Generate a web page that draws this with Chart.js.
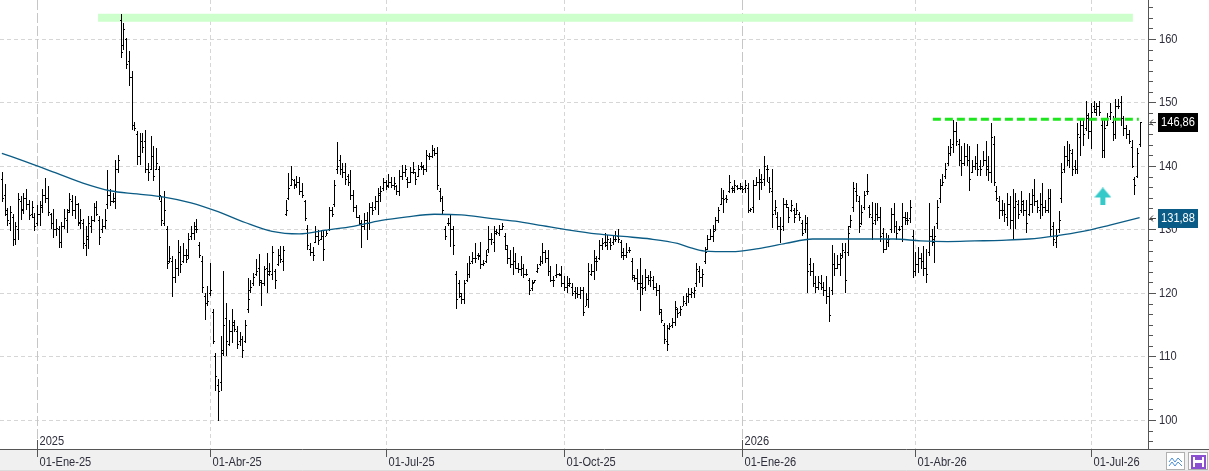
<!DOCTYPE html>
<html>
<head>
<meta charset="utf-8">
<script src="https://cdn.jsdelivr.net/npm/chart.js@4.4.1/dist/chart.umd.min.js"></script>
<style>
  html, body { margin: 0; padding: 0; background: #fff; }
  canvas { display: block; }
</style>
</head>
<body>
<canvas id="chart" width="1209" height="471"></canvas>
<script>
/* ----------------------------------
 * DATA (one bar per trading session, index 0 = 13-Dic-24)
 * ---------------------------------- */
const highs = [
  139.0,137.1,133.4,133.7,132.4,131.1,135.8,135.2,135.8,136.3, 134.7,134.5,132.6,133.9,134.5,136.3,138.1,136.8,132.6,133.2,
  131.6,130.5,131.1,133.2,133.2,135.8,135.5,135.2,134.2,133.2, 131.6,130.5,132.1,132.1,134.2,134.5,132.1,131.6,133.2,139.4,
  136.3,135.8,141.0,141.8,164.0,162.5,160.2,158.1,154.9,147.0, 145.5,145.2,145.2,145.7,140.5,144.7,143.1,142.9,140.0,135.2,
  136.0,130.5,127.4,125.8,125.3,128.4,127.4,127.9,126.9,129.5, 130.5,131.1,131.6,128.0,125.8,120.0,121.1,124.8,117.4,110.6,
  106.4,113.2,123.4,118.5,115.8,117.4,115.8,114.8,113.8,113.2, 115.8,122.4,122.1,123.2,125.3,126.1,122.1,124.2,126.3,124.8,
  127.4,123.7,126.9,127.4,127.4,134.7,138.9,140.0,137.9,138.4, 138.3,137.3,134.7,130.7,127.9,127.3,130.5,129.9,129.9,129.9,
  129.9,133.6,133.6,137.8,143.8,141.7,140.4,140.4,138.8,139.4, 136.2,133.9,132.3,131.5,132.6,132.8,134.1,134.4,135.2,136.5,
  136.8,138.1,137.8,138.8,138.3,138.3,137.0,139.4,140.2,140.2, 138.3,139.9,140.7,139.1,140.2,140.7,140.2,142.5,142.0,143.3,
  142.8,143.0,136.5,135.2,130.5,131.8,132.3,130.5,123.4,122.1, 120.0,122.1,124.7,125.8,126.5,127.9,126.3,128.1,125.2,126.8,
  130.5,129.4,130.5,130.0,130.7,131.0,129.4,127.6,126.8,127.3, 126.3,124.7,125.8,124.5,123.7,122.4,122.1,122.1,124.5,125.8,
  127.9,126.8,126.8,124.2,122.6,124.5,123.1,124.2,122.6,122.6, 122.4,121.6,121.0,121.0,121.0,121.0,120.0,124.7,124.5,126.8,
  125.8,128.4,128.6,129.4,129.2,128.6,129.2,129.7,130.0,128.4, 127.1,127.9,127.3,125.5,122.9,123.7,125.5,122.9,123.7,122.9,
  123.4,122.6,121.6,121.3,117.4,115.3,115.0,115.3,116.1,118.7, 117.6,117.9,119.5,120.0,120.8,120.8,121.0,124.7,124.2,123.7,
  127.3,129.2,130.0,130.7,132.0,133.6,136.5,136.2,135.4,138.6, 136.8,137.8,137.0,137.3,136.8,137.8,137.3,133.4,137.8,138.3,
  139.6,138.8,141.5,140.2,138.3,139.6,134.7,132.8,132.0,134.9, 134.7,133.6,134.7,133.4,134.1,132.8,131.5,132.3,132.0,125.5,
  124.7,122.6,122.6,122.9,121.8,122.6,121.0,127.6,126.3,126.0, 126.3,127.9,127.9,130.5,132.3,137.5,137.3,135.2,133.9,136.0,
  138.8,133.9,134.4,134.1,134.1,133.6,130.2,129.4,129.2,133.4, 134.1,131.3,130.5,134.1,132.8,132.8,134.7,129.9,126.5,127.3,
  126.3,127.4,127.0,134.2,130.0,130.5,134.7,137.9,138.7,140.5, 143.1,144.2,147.3,147.0,144.2,143.1,143.6,143.4,143.1,141.0,
  141.5,143.4,141.0,142.3,143.9,141.5,146.8,144.7,136.8,135.2, 134.7,134.2,135.8,135.2,136.3,135.8,134.7,136.0,134.7,134.7,
  135.8,136.3,137.9,134.7,135.8,137.3,134.7,136.3,136.3,131.1, 130.0,132.9,140.5,143.1,143.9,143.4,142.6,141.0,146.8,147.3,
  147.3,150.2,148.4,149.9,150.2,149.9,150.2,147.3,147.3,148.4, 149.9,147.8,150.5,150.5,151.0,147.8,146.5,145.7,144.1,138.3,
  142.8,147.0
];

const lows = [
  134.3,132.1,130.5,129.7,127.4,127.6,128.4,131.5,132.4,133.0, 131.5,131.8,129.8,130.5,130.5,132.6,134.2,132.1,130.0,128.7,
  129.0,127.1,127.1,130.0,129.5,132.6,132.1,131.6,130.5,130.0, 126.9,125.8,126.9,129.5,131.1,132.1,127.6,129.5,130.0,133.2,
  133.7,134.2,133.2,138.9,157.0,158.3,155.2,152.6,145.7,145.5, 140.2,140.2,142.1,138.9,137.6,139.4,137.6,139.4,134.7,130.5,
  130.5,123.7,124.8,119.3,121.6,122.7,123.2,124.8,124.8,125.3, 128.4,128.4,129.5,125.5,120.0,115.8,117.9,119.5,111.9,104.6,
  99.9,104.6,110.1,110.1,111.6,112.2,113.8,111.1,111.6,109.8, 112.2,116.9,120.0,121.1,122.7,121.1,117.9,121.1,120.0,122.7,
  122.1,120.6,124.2,124.8,123.4,132.1,134.7,136.8,136.3,136.6, 135.4,134.9,131.3,126.8,125.8,125.0,127.9,127.6,128.4,125.0,
  128.9,129.7,132.0,133.6,138.8,138.6,138.1,137.0,136.8,134.7, 132.8,131.8,130.7,127.1,129.9,128.4,129.9,132.3,133.1,132.3,
  134.4,136.0,136.2,136.5,136.5,136.2,135.4,135.2,137.8,138.3, 136.5,137.3,138.8,137.0,138.3,139.4,138.6,139.1,140.9,141.2,
  141.5,136.2,134.4,132.3,128.4,130.5,127.3,126.0,117.4,119.2, 118.2,118.2,121.8,122.4,124.5,124.7,125.2,123.7,124.2,124.7,
  126.3,127.6,126.5,129.2,128.9,129.9,126.8,124.5,123.9,122.9, 123.7,123.1,122.6,122.4,122.6,119.7,120.3,121.6,123.1,124.2,
  124.5,124.7,122.6,121.8,121.0,122.4,122.6,121.0,120.3,120.0, 121.0,119.5,119.0,119.2,119.0,116.3,117.9,117.6,122.6,122.1,
  123.4,125.2,126.8,127.3,126.8,126.8,127.6,128.1,127.9,125.5, 125.2,125.5,126.3,122.1,121.8,120.5,117.1,119.7,120.3,121.3,
  121.0,120.5,119.5,116.6,115.3,111.9,110.8,114.2,114.5,114.8, 116.1,116.3,117.9,117.9,118.4,119.2,119.2,121.0,121.6,121.0,
  124.5,126.8,128.4,128.1,129.7,131.0,133.9,132.6,134.1,135.7, 135.7,135.7,136.2,136.2,135.7,135.7,132.6,132.8,132.6,136.8,
  134.7,136.2,136.8,137.5,135.7,130.2,132.3,129.9,127.9,129.7, 133.4,131.0,132.8,131.0,132.3,131.3,128.9,129.4,120.0,122.6,
  121.0,120.0,120.5,120.5,119.5,118.2,115.5,119.7,122.6,123.7, 122.6,125.5,120.0,125.8,130.2,132.8,134.4,129.4,130.7,133.1,
  135.4,131.8,128.4,130.7,131.3,128.1,126.3,126.8,127.3,129.4, 129.4,128.4,129.7,128.1,130.7,130.7,131.0,122.4,122.6,123.1,
  123.7,122.7,121.6,125.8,127.4,124.8,130.0,134.2,136.8,137.9, 140.0,141.5,142.1,143.1,140.0,138.4,140.0,140.0,136.0,138.9,
  139.4,138.4,138.4,140.0,138.4,137.6,137.3,136.8,134.5,131.6, 132.1,131.1,130.5,130.0,128.4,130.0,131.6,132.6,132.1,129.5,
  132.1,132.6,133.7,132.6,131.6,132.1,132.6,132.6,129.0,127.4, 127.1,129.5,134.2,138.9,140.0,139.7,138.4,138.7,138.7,141.5,
  143.1,145.5,144.2,142.6,148.4,147.8,147.8,141.3,141.3,146.3, 147.3,143.9,144.2,148.9,146.3,144.7,144.2,143.5,139.7,135.5,
  138.1,143.0
];

const opens = [
  138.0,135.5,132.5,131.0,132.0,128.5,130.0,134.5,133.2,135.0, 134.0,132.5,132.0,131.0,132.5,133.5,135.5,135.0,132.5,131.0,
  130.0,130.0,128.0,130.5,131.5,133.0,134.5,133.0,134.0,131.0, 131.0,127.5,128.5,130.5,131.5,133.5,131.5,130.0,130.5,134.0,
  135.5,134.5,134.5,139.5,163.0,159.0,160.0,156.5,154.0,146.5, 145.0,141.5,144.0,144.0,139.5,139.5,141.5,139.5,139.5,134.5,
  131.0,130.0,125.0,125.0,122.5,124.0,126.5,125.0,126.0,126.0, 129.0,129.5,130.5,127.5,125.0,119.5,118.5,120.0,117.0,110.0,
  105.5,106.0,111.0,116.0,112.0,114.0,115.0,114.0,112.5,112.8, 112.5,117.5,120.5,121.5,123.0,124.0,121.8,121.5,124.0,123.5,
  123.0,123.5,124.5,126.0,125.0,132.5,135.0,137.0,137.8,137.0, 137.5,136.0,134.5,130.0,127.0,126.5,128.0,129.0,128.5,129.0,
  129.0,130.0,133.0,134.0,139.5,141.0,139.5,139.0,138.5,137.5, 135.5,133.5,132.0,131.0,130.5,131.5,131.0,133.5,133.5,134.5,
  135.5,136.5,137.5,137.0,137.5,137.0,136.8,136.0,138.5,139.0, 138.0,137.5,139.0,139.0,138.5,140.0,140.0,139.5,141.5,141.5,
  142.5,142.0,136.0,135.0,130.0,131.0,131.0,130.0,123.0,121.5, 119.5,119.0,122.0,123.0,125.0,125.5,126.0,126.0,124.5,125.0,
  127.0,128.5,128.0,129.5,129.5,130.0,129.0,127.0,125.5,124.5, 125.0,124.0,123.8,124.0,123.0,122.0,120.8,121.8,123.5,124.5,
  125.0,126.5,125.5,123.5,122.0,122.8,123.0,123.0,121.5,121.0, 121.3,121.0,120.3,120.0,119.8,120.5,118.0,119.0,123.0,123.5,
  125.0,125.5,127.5,128.0,127.5,128.0,128.0,128.5,129.0,128.0, 126.5,126.0,126.8,125.0,122.5,122.3,121.5,121.5,121.0,122.5,
  122.0,122.0,121.0,120.5,117.0,115.0,112.5,114.5,115.0,115.5, 117.5,117.0,118.0,118.5,119.5,119.8,120.0,121.5,123.5,122.5,
  125.0,127.0,128.5,129.0,130.0,131.5,134.0,135.0,135.0,136.0, 136.5,136.5,136.8,136.5,136.5,136.5,136.5,133.0,133.5,137.0,
  137.5,137.5,138.0,139.5,137.5,136.0,133.0,132.0,130.5,130.5, 134.0,133.5,133.0,133.0,132.5,132.5,131.0,130.0,131.0,124.5,
  123.5,121.5,121.0,121.5,121.0,120.5,119.5,120.5,124.5,124.0, 124.5,126.0,126.5,126.5,130.5,133.5,136.0,134.5,131.0,133.5,
  136.0,133.5,132.0,131.5,132.5,132.0,129.5,127.0,128.0,130.0, 132.5,130.5,130.0,130.5,132.0,131.5,131.8,129.0,123.5,124.5,
  125.5,125.0,124.0,126.5,129.0,128.0,131.0,135.0,137.0,138.5, 140.5,142.0,143.5,145.5,143.5,141.0,140.5,141.5,141.0,139.0,
  140.0,140.5,140.0,140.0,141.0,140.0,139.0,143.5,136.0,134.5, 133.0,133.0,132.0,134.0,131.5,133.5,134.0,133.0,134.0,133.0,
  132.5,134.0,135.5,134.5,133.0,134.0,133.5,133.0,135.0,130.5, 128.0,130.0,135.0,139.5,141.5,141.0,142.0,140.0,139.5,144.5,
  146.5,146.0,147.5,145.5,149.5,148.5,149.5,146.5,142.5,146.5, 147.8,147.0,145.0,149.5,150.0,147.5,146.0,145.0,143.0,138.0,
  138.5,143.5
];

const closes = [
  135.0,133.0,131.5,132.8,128.5,130.5,134.8,133.0,135.0,134.0, 132.3,133.5,130.6,132.5,133.8,135.5,135.0,132.8,131.0,130.0,
  130.2,128.0,130.5,131.8,132.8,134.8,133.0,134.0,131.2,131.5, 127.8,129.0,131.0,131.5,133.5,132.5,128.8,130.5,131.5,135.5,
  134.5,135.0,139.5,141.0,158.0,161.5,156.0,154.0,146.5,146.0, 141.5,144.0,143.0,139.5,139.0,141.5,138.5,140.5,135.5,131.5,
  133.0,124.8,125.5,122.5,124.0,126.5,124.5,126.0,125.3,128.5, 129.5,130.0,130.0,126.0,121.0,118.5,118.8,120.5,112.5,107.0,
  104.5,110.5,115.0,112.5,114.0,115.5,114.3,112.0,112.8,111.0, 115.0,119.0,121.0,122.5,123.5,122.0,121.5,123.8,123.0,123.5,
  126.5,122.0,126.0,125.3,126.8,133.0,136.5,138.0,137.2,137.5, 136.0,135.5,131.8,127.5,126.5,126.0,129.0,128.3,129.0,127.0,
  129.5,133.0,132.5,137.0,140.0,139.5,139.0,138.0,137.5,135.5, 133.5,132.0,131.0,130.5,131.5,131.0,133.5,133.0,134.5,135.8,
  136.0,137.5,136.8,137.5,137.0,137.3,136.0,138.5,139.0,139.5, 137.5,139.0,139.5,138.0,139.5,139.8,139.5,141.8,141.5,142.5,
  142.0,137.0,135.0,133.0,129.0,131.0,130.0,127.5,119.0,120.0, 119.0,121.5,123.0,124.8,125.5,125.5,125.8,124.5,124.8,126.0,
  128.5,128.5,129.8,129.6,130.0,130.5,127.5,125.5,124.5,125.0, 124.0,123.8,124.0,123.0,123.0,120.5,121.5,122.0,124.0,125.0,
  126.5,125.5,123.5,122.0,122.0,123.0,122.8,121.5,121.0,121.5, 121.5,120.0,120.0,119.8,120.5,117.0,119.0,123.5,123.5,125.5,
  125.0,127.5,127.8,128.0,128.5,127.5,128.5,128.5,128.5,126.0, 126.0,126.5,126.8,122.8,122.3,121.5,121.0,120.8,122.5,122.0,
  122.5,121.0,120.5,117.5,115.8,112.8,112.0,114.8,115.5,117.8, 116.8,117.5,118.8,119.5,119.8,120.2,120.5,123.8,122.5,123.0,
  126.5,128.5,129.0,129.8,131.5,133.0,135.0,134.8,134.8,137.5, 136.2,137.0,136.5,136.8,136.3,137.0,133.0,133.2,137.0,137.5,
  138.0,137.5,140.0,139.5,136.5,132.5,133.5,130.5,130.0,134.0, 134.0,132.0,133.8,132.0,133.0,132.0,129.5,131.0,123.5,123.5,
  121.5,121.0,121.8,121.0,120.5,119.5,116.5,124.5,124.0,124.5, 125.5,126.8,122.0,129.5,131.5,136.5,135.5,130.5,132.8,135.5,
  136.0,132.5,131.0,132.5,132.0,129.0,127.0,128.5,128.5,132.5, 130.5,129.5,130.0,132.0,131.8,131.5,133.5,123.5,124.5,125.5,
  125.0,124.0,123.0,129.0,128.5,129.0,133.5,137.0,137.5,139.5, 142.0,143.0,145.5,144.0,141.0,140.5,141.5,141.0,138.0,140.0,
  140.5,139.5,139.5,141.0,139.5,139.0,144.5,137.5,135.0,133.0, 133.0,132.5,134.0,131.5,133.5,134.5,132.5,134.5,133.0,131.0,
  134.0,135.5,134.5,133.5,134.0,133.5,133.0,135.0,130.0,128.5, 129.0,131.5,139.0,141.5,141.0,142.5,139.5,139.5,145.0,146.5,
  145.0,148.0,145.5,148.5,149.0,149.5,148.5,142.5,146.0,147.5, 148.5,145.0,149.5,149.5,147.5,146.0,145.0,144.0,140.0,137.0,
  142.0,146.86
];

// moving average, every ~10 sessions
const maIdx  = [0,10,20,30,40,50,60,70,80,90,100,110,120,130,140,150,160,170,180,190,200,210,220,230,240,250,255,260,270,280,290,300,310,320,330,340,350,360,370,380,390,400,410,421];
const maVals = [142.0,140.5,138.9,137.3,136.1,135.6,135.1,134.2,132.8,131.1,129.7,129.3,129.9,130.5,131.4,132.0,132.4,132.3,131.8,131.3,130.6,129.9,129.3,128.9,128.5,127.8,127.1,126.6,126.5,127.0,127.8,128.5,128.5,128.5,128.5,128.2,128.1,128.2,128.3,128.5,129.0,129.7,130.7,131.88];

// axis ticks
const yTicks = [100, 110, 120, 130, 140, 150, 160];
const quarterIdx = [13, 77, 142, 208, 274, 338, 403];
const quarterLabels = ["01-Ene-25", "01-Abr-25", "01-Jul-25", "01-Oct-25", "01-Ene-26", "01-Abr-26", "01-Jul-26"];
const yearIdx = [13, 274];
const yearLabels = ["2025", "2026"];

// drawn studies
const bandLevel = 163.35, bandFrom = 35.6, bandTo = 418.5;
const resLevel = 147.35, resFrom = 344.5, resTo = 420.7;
const arrowAt = { x: 407.4, y: 135.2 };
const lastPrice = 146.86, lastAvg = 131.88;

/* ----------------------------------
 * HELPERS
 * ---------------------------------- */
const MA_COLOR = "#0a5c86";
const TEXT_COLOR = "#2e2e3c";

// condensed label font if available, else squeeze the regular one
function pickFont() {
    const c = document.createElement("canvas").getContext("2d");
    const probe = "01-Ene-25 146,86";
    c.font = "13px monospace";
    const base = c.measureText(probe).width;
    c.font = '13px "Liberation Sans Narrow", monospace';
    const narrow = c.measureText(probe).width;
    if (Math.abs(base - narrow) > 0.5) return { font: '13.5px "Liberation Sans Narrow"', sx: 1 };
    return { font: '13.5px "Liberation Sans", Arial, sans-serif', sx: 0.82 };
}
const LABEL = pickFont();

function text(ctx, str, x, y, align) {
    ctx.save();
    ctx.font = LABEL.font;
    ctx.textBaseline = "middle";
    ctx.textAlign = align || "left";
    ctx.translate(x, y);
    ctx.scale(LABEL.sx, 1);
    ctx.fillText(str, 0, 0);
    ctx.restore();
}

function hline(ctx, x1, x2, y) {
    ctx.beginPath(); ctx.moveTo(x1, y); ctx.lineTo(x2, y); ctx.stroke();
}

function vline(ctx, x, y1, y2) {
    ctx.beginPath(); ctx.moveTo(x, y1); ctx.lineTo(x, y2); ctx.stroke();
}

function makeArrow() {
    const c = document.createElement("canvas");
    c.width = 17; c.height = 18;
    const g = c.getContext("2d");
    g.fillStyle = "#35c9c9";
    g.beginPath(); g.moveTo(8.5, 0); g.lineTo(17, 10); g.lineTo(0, 10); g.closePath(); g.fill();
    g.fillRect(6, 10, 5, 8);
    return c;
}

/* ----------------------------------
 * PLUGINS
 * ---------------------------------- */
const ohlcPlugin = {
    id: "ohlc",
    afterDatasetDraw(chart, args) {
        if (chart.data.datasets[args.index].id !== "ohlc") return;
        const ctx = chart.ctx, y = chart.scales.y;
        ctx.save();
        ctx.fillStyle = "#000";
        args.meta.data.forEach((bar, k) => {
            const px = Math.round(bar.x);
            const top = Math.round(Math.min(bar.y, bar.base));
            const bot = Math.round(Math.max(bar.y, bar.base));
            ctx.fillRect(px, top, 1, Math.max(1, bot - top));
            ctx.fillRect(px - 1, Math.round(y.getPixelForValue(opens[k])), 1, 1);
            ctx.fillRect(px + 1, Math.round(y.getPixelForValue(closes[k])), 1, 1);
        });
        ctx.restore();
    }
};

const framePlugin = {
    id: "frame",
    beforeDatasetsDraw(chart) {
        const { ctx, chartArea: a, scales: { x, y } } = chart;
        ctx.save();
        ctx.lineWidth = 1;
        ctx.strokeStyle = "#d6d6d6";
        ctx.setLineDash([4, 3]);
        yTicks.forEach(v => hline(ctx, a.left, a.right, Math.round(y.getPixelForValue(v)) + 0.5));
        quarterIdx.forEach(i => {
            const px = Math.round(x.getPixelForValue(i)) + 0.5;
            const isYear = yearIdx.includes(i);
            ctx.setLineDash(isYear ? [10, 3] : [4, 3]);
            ctx.strokeStyle = isYear ? "#c6c6c6" : "#d6d6d6";
            vline(ctx, px, a.top, a.bottom);
        });
        ctx.restore();
    },
    afterDraw(chart) {
        const { ctx, chartArea: a, scales: { x, y } } = chart;
        const W = chart.width, H = chart.height;
        ctx.save();
        ctx.lineWidth = 1;

        // bottom date strip
        ctx.fillStyle = "#f0f0f0";
        ctx.fillRect(0, a.bottom + 1, W, H - a.bottom - 1);
        ctx.strokeStyle = "#dcdcdc";
        hline(ctx, 0, W, H - 0.5);

        // axis lines
        ctx.strokeStyle = "#555";
        hline(ctx, 0, W, a.bottom + 0.5);
        vline(ctx, a.right + 0.5, 0, a.bottom);

        // right axis: minor + major ticks, labels
        for (let k = -3; k <= 40; k++) {
            const v = 100 + k * 10 / 6;
            if (k % 6 === 0 || v < y.min || v > y.max) continue;
            hline(ctx, a.right, a.right + 5, Math.round(y.getPixelForValue(v)) + 0.5);
        }
        ctx.fillStyle = TEXT_COLOR;
        yTicks.forEach(v => {
            const py = Math.round(y.getPixelForValue(v)) + 0.5;
            hline(ctx, a.right, a.right + 8, py);
            text(ctx, String(v), a.right + 11, py);
        });

        // bottom axis: quarter ticks + labels, year marks
        quarterIdx.forEach((i, k) => {
            const px = Math.round(x.getPixelForValue(i)) + 0.5;
            vline(ctx, px, a.bottom, a.bottom + 8);
            text(ctx, quarterLabels[k], px + 2, a.bottom + 13);
        });
        yearIdx.forEach((i, k) => {
            const px = Math.round(x.getPixelForValue(i)) + 0.5;
            vline(ctx, px, a.bottom - 9, a.bottom);
            text(ctx, yearLabels[k], px + 2, a.bottom - 8);
        });

        // last value tags
        [[lastPrice, "#000000"], [lastAvg, MA_COLOR]].forEach(([v, col]) => {
            const py = Math.round(y.getPixelForValue(v));
            ctx.fillStyle = col;
            ctx.fillRect(a.right + 10, py - 9, 40, 19);
            ctx.fillStyle = "#fff";
            text(ctx, v.toFixed(2).replace(".", ","), a.right + 30, py + 0.5, "center");
            ctx.strokeStyle = "#444";
            hline(ctx, a.right + 2, a.right + 8, py + 0.5);
            ctx.beginPath();
            ctx.moveTo(a.right + 5, py - 2.5); ctx.lineTo(a.right + 2, py + 0.5); ctx.lineTo(a.right + 5, py + 3.5);
            ctx.stroke();
        });

        // toolbar buttons bottom right
        ctx.fillStyle = "#fff";
        ctx.strokeStyle = "#b0b0b0";
        ctx.fillRect(1166, 452, 19, 18); ctx.strokeRect(1166.5, 452.5, 18, 17);
        ctx.fillRect(1188, 452, 20, 18); ctx.strokeRect(1188.5, 452.5, 19, 17);
        ctx.strokeStyle = "#4a8fd8";
        ctx.beginPath();
        ctx.moveTo(1169, 462); ctx.lineTo(1172, 458); ctx.lineTo(1175, 462); ctx.lineTo(1178, 458); ctx.lineTo(1182, 462);
        ctx.moveTo(1169, 466); ctx.lineTo(1172, 462); ctx.lineTo(1175, 466); ctx.lineTo(1178, 462); ctx.lineTo(1182, 466);
        ctx.stroke();
        ctx.strokeStyle = "#8a50d0";
        ctx.lineWidth = 2;
        ctx.strokeRect(1192, 456, 13, 12);
        ctx.fillStyle = "#8a50d0";
        ctx.fillRect(1195, 456, 7, 4);
        ctx.fillRect(1195, 463, 7, 5);
        ctx.restore();
    }
};

/* ----------------------------------
 * CHART
 * ---------------------------------- */
new Chart(document.getElementById("chart"), {
    type: "line",
    data: {
        datasets: [
            {
                id: "band", type: "line", order: 4,
                data: [{ x: bandFrom, y: bandLevel }, { x: bandTo, y: bandLevel }],
                borderColor: "#ccffcc", borderWidth: 8, borderCapStyle: "butt", pointRadius: 0
            },
            {
                id: "ohlc", type: "bar", order: 3,
                data: highs.map((h, k) => ({ x: k, y: [lows[k], h] })),
                backgroundColor: "rgba(0,0,0,0)", borderWidth: 0, barThickness: 1
            },
            {
                id: "ma", type: "line", order: 2,
                data: maIdx.map((i, k) => ({ x: i, y: maVals[k] })),
                borderColor: MA_COLOR, borderWidth: 1.3, pointRadius: 0, cubicInterpolationMode: "monotone"
            },
            {
                id: "resistance", type: "line", order: 1,
                data: [{ x: resFrom, y: resLevel }, { x: resTo, y: resLevel }],
                borderColor: "#1ee61e", borderWidth: 3, borderDash: [8, 4], borderCapStyle: "butt", pointRadius: 0
            },
            {
                id: "arrow", type: "scatter", order: 0,
                data: [arrowAt],
                pointStyle: makeArrow(), pointRadius: 9
            }
        ]
    },
    options: {
        responsive: false,
        devicePixelRatio: 1,
        animation: false,
        events: [],
        layout: { autoPadding: false, padding: { left: 0, top: 0, right: 61, bottom: 22 } },
        scales: {
            x: { type: "linear", min: -0.69, max: 424.1, offset: false, display: false },
            y: { type: "linear", min: 95.43, max: 166.14, display: false }
        },
        plugins: { legend: { display: false }, tooltip: { enabled: false } }
    },
    plugins: [framePlugin, ohlcPlugin]
});
</script>
</body>
</html>
